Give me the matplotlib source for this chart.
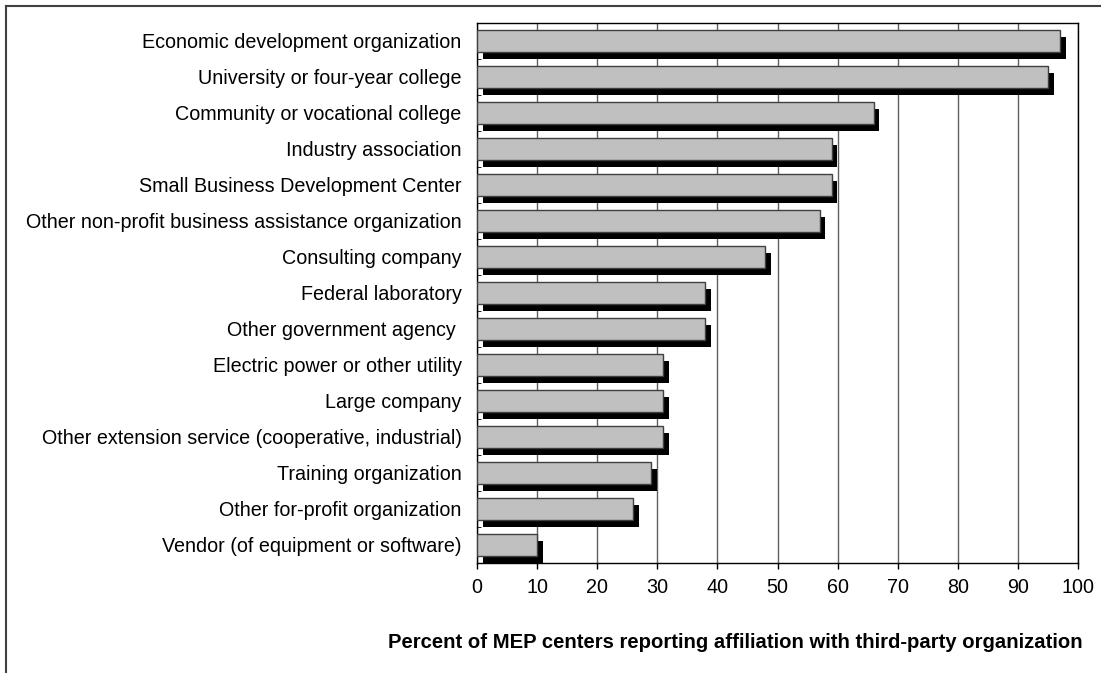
import matplotlib.pyplot as plt
import matplotlib.patheffects as pe
from matplotlib.lines import Line2D

plt.rcParams['font.family'] = ['Liberation Sans', 'DejaVu Sans']

# organizaciones, de arriba hacia abajo
organizaciones = [
    'Economic development organization',
    'University or four-year college',
    'Community or vocational college',
    'Industry association',
    'Small Business Development Center',
    'Other non-profit business assistance organization',
    'Consulting company',
    'Federal laboratory',
    'Other government agency ',
    'Electric power or other utility',
    'Large company',
    'Other extension service (cooperative, industrial)',
    'Training organization',
    'Other for-profit organization',
    'Vendor (of equipment or software)',
]
porcentajes = [97, 95, 66, 59, 59, 57, 48, 38, 38, 31, 31, 31, 29, 26, 10]
ticks_x = [0, 10, 20, 30, 40, 50, 60, 70, 80, 90, 100]
titulo_x = 'Percent of MEP centers reporting affiliation with third-party organization'

TAM = 14.2


def graficar():
  fig = plt.figure(figsize=(11.01, 6.73), dpi=100)
  ax = fig.add_axes([477/1101, 1-563/673, (1078-477)/1101, (563-23)/673])

  n = len(organizaciones)
  pos = list(range(n))
  barras = ax.barh(pos, porcentajes, height=0.6, color='#c0c0c0',
                   edgecolor='#404040', linewidth=1, zorder=3)
  for b in barras:
    b.set_path_effects([pe.SimplePatchShadow(offset=(4, -5), shadow_rgbFace='black', alpha=1),
                        pe.Normal()])

  ax.set_xlim(0, 100)
  ax.set_ylim(n - 0.5, -0.5)
  ax.set_xticks(ticks_x)
  ax.set_xticklabels([str(t) for t in ticks_x], fontsize=TAM)
  ax.set_yticks(pos)
  ax.set_yticklabels(organizaciones, fontsize=TAM)
  ax.tick_params(axis='y', length=0, pad=11)
  ax.tick_params(axis='x', length=4, width=1, pad=7, color='black')
  ax.set_yticks([p + 0.5 for p in pos[:-1]], minor=True)
  ax.tick_params(axis='y', which='minor', direction='in', length=3, color='black')

  ax.grid(axis='x', color='#606060', linewidth=1, zorder=0)
  for s in ax.spines.values():
    s.set_color('black')
    s.set_linewidth(1)

  fig.text(1083/1101, 1-643/673, titulo_x, ha='right', va='center',
           fontsize=14.6, fontweight='bold')

  # marco exterior (solo lados izquierdo y superior visibles)
  fig.add_artist(Line2D([5.5/1101, 5.5/1101], [0, 1-6/673], color='#404040', linewidth=1.5))
  fig.add_artist(Line2D([5.5/1101, 1], [1-6/673, 1-6/673], color='#404040', linewidth=1.5))

  fig.savefig('out.png', dpi=100)


graficar()
